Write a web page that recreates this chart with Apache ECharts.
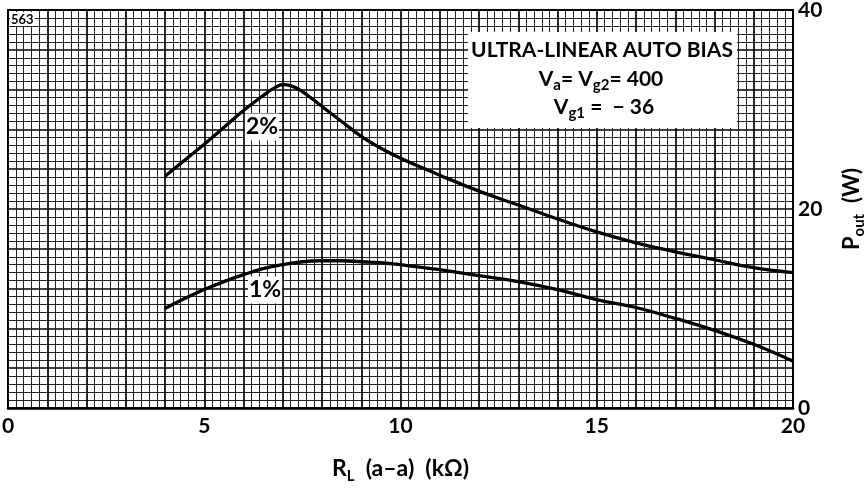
<!DOCTYPE html>
<html><head><meta charset="utf-8">
<script src="https://cdn.jsdelivr.net/npm/echarts@6/dist/echarts.min.js"></script>
<style>html,body{margin:0;padding:0;background:#fff}#c{width:867px;height:488px}</style>
</head><body><div id="c"></div>
<script>
// Data
const rl2 = [4.0, 4.5, 5.0, 5.5, 6.0, 6.5, 6.8, 7.0, 7.2, 7.5, 8.0, 8.5, 9.0, 9.5, 10.0, 11.0, 12.0, 13.0, 14.0, 15.0, 16.0, 17.0, 18.0, 19.0, 20.0];
const p2  = [23.3, 24.9, 26.5, 28.2, 29.9, 31.4, 32.2, 32.5, 32.4, 31.8, 30.3, 28.8, 27.3, 26.1, 25.1, 23.4, 21.8, 20.4, 19.0, 17.7, 16.6, 15.7, 14.9, 14.1, 13.6];
const rl1 = [4.0, 4.5, 5.0, 5.5, 6.0, 6.5, 7.0, 7.5, 8.0, 8.5, 9.0, 9.5, 10.0, 11.0, 12.0, 13.0, 14.0, 15.0, 16.0, 17.0, 18.0, 19.0, 20.0];
const p1  = [10.0, 11.0, 11.9, 12.7, 13.4, 14.0, 14.4, 14.7, 14.8, 14.8, 14.7, 14.6, 14.4, 13.9, 13.3, 12.7, 11.9, 10.9, 10.1, 9.0, 7.8, 6.4, 4.7];
const xRange = [0, 20];
const yRange = [0, 40];
const xLabelStep = 5;
const yLabelStep = 20;

const FONT = 'Lato';
const chart = echarts.init(document.getElementById('c'), null, {renderer: 'canvas'});
const pairs = (xs, ys) => xs.map((x, i) => [x, ys[i]]);

const gridAxisX = {
  type: 'value', min: xRange[0], max: xRange[1], interval: 1, gridIndex: 0,
  axisLine: {show: false}, axisTick: {show: false}, axisLabel: {show: false},
  splitLine: {show: true, lineStyle: {color: '#000', width: 1.7}},
  minorTick: {show: false, splitNumber: 5},
  minorSplitLine: {show: true, lineStyle: {color: '#222', width: 1}}
};
const gridAxisY = {
  type: 'value', min: yRange[0], max: yRange[1], interval: 4, gridIndex: 0,
  axisLine: {show: false}, axisTick: {show: false}, axisLabel: {show: false},
  splitLine: {show: true, lineStyle: {color: '#000', width: 1.7}},
  minorTick: {show: false, splitNumber: 5},
  minorSplitLine: {show: true, lineStyle: {color: '#222', width: 1}}
};

chart.setOption({
  animation: false,
  backgroundColor: '#fff',
  grid: {left: 8, right: 74, top: 10, bottom: 80, outerBoundsMode: 'none', containLabel: false,
         show: true, borderColor: '#000', borderWidth: 2, backgroundColor: '#fff'},
  xAxis: [
    {
      type: 'value', min: xRange[0], max: xRange[1], interval: xLabelStep, position: 'bottom',
      axisLine: {show: true, lineStyle: {color: '#000', width: 2.5}},
      axisTick: {show: false}, splitLine: {show: false},
      axisLabel: {color: '#000', fontFamily: FONT, fontWeight: 'bold', fontSize: 21, margin: 8},
      name: '{m|R}{s|L}{m|  (a–a)  (kΩ)}', nameLocation: 'middle', nameGap: 46,
      nameTextStyle: {color: '#000', fontFamily: FONT, fontWeight: 'bold',
        rich: {m: {fontFamily: FONT, fontWeight: 'bold', fontSize: 23, color: '#000'},
               s: {fontFamily: FONT, fontWeight: 'bold', fontSize: 15, color: '#000', padding: [15, 0, 0, 0]}}}
    },
    gridAxisX
  ],
  yAxis: [
    {
      type: 'value', min: yRange[0], max: yRange[1], interval: yLabelStep, position: 'right',
      axisLine: {show: true, lineStyle: {color: '#000', width: 2}},
      axisTick: {show: false}, splitLine: {show: false},
      axisLabel: {color: '#000', fontFamily: FONT, fontWeight: 'bold', fontSize: 21, margin: 5},
      name: '{m|P}{s|out}{m|  (W)}', nameLocation: 'middle', nameGap: 44, nameRotate: 90,
      nameTextStyle: {color: '#000', fontFamily: FONT, fontWeight: 'bold',
        rich: {m: {fontFamily: FONT, fontWeight: 'bold', fontSize: 22, color: '#000'},
               s: {fontFamily: FONT, fontWeight: 'bold', fontSize: 15, color: '#000', padding: [15, 0, 0, 0]}}}
    },
    gridAxisY
  ],
  series: [
    {type: 'line', name: '2%', data: pairs(rl2, p2), smooth: 0.45, showSymbol: false, symbol: 'none',
     lineStyle: {color: '#000', width: 3.3}, z: 5},
    {type: 'line', name: '1%', data: pairs(rl1, p1), smooth: 0.45, showSymbol: false, symbol: 'none',
     lineStyle: {color: '#000', width: 3.3}, z: 5}
  ],
  graphic: [
    {type: 'rect', z: 20, shape: {x: 468, y: 32, width: 269, height: 96}, style: {fill: '#fff'}},
    {type: 'text', z: 21, x: 602, y: 50, style: {text: 'ULTRA-LINEAR AUTO BIAS', fontFamily: FONT, fontWeight: 'bold', fontSize: 21, fill: '#000', align: 'center', verticalAlign: 'middle'}},
    {type: 'text', z: 21, x: 601, y: 79, style: {
      text: '{m|V}{s|a}{m|= V}{s|g2}{m|= 400}', align: 'center', verticalAlign: 'middle',
      rich: {m: {fontFamily: FONT, fontWeight: 'bold', fontSize: 21, fill: '#000'},
             s: {fontFamily: FONT, fontWeight: 'bold', fontSize: 15, fill: '#000', padding: [13, 0, 0, 0]}}}},
    {type: 'text', z: 21, x: 604, y: 107, style: {
      text: '{m|V}{s|g1}{m| =  − 36}', align: 'center', verticalAlign: 'middle',
      rich: {m: {fontFamily: FONT, fontWeight: 'bold', fontSize: 21, fill: '#000'},
             s: {fontFamily: FONT, fontWeight: 'bold', fontSize: 15, fill: '#000', padding: [13, 0, 0, 0]}}}},
    {type: 'text', z: 21, x: 262, y: 127, style: {text: '2%', fontFamily: FONT, fontWeight: 'bold', fontSize: 23, fill: '#000', align: 'center', verticalAlign: 'middle', backgroundColor: '#fff', padding: [2, 1, 2, 1]}},
    {type: 'text', z: 21, x: 265, y: 290, style: {text: '1%', fontFamily: FONT, fontWeight: 'bold', fontSize: 23, fill: '#000', align: 'center', verticalAlign: 'middle', backgroundColor: '#fff', padding: [2, 1, 2, 1]}},
    {type: 'text', z: 21, x: 10, y: 12, style: {text: '563', fontFamily: FONT, fontWeight: 'bold', fontSize: 13, fill: '#000', backgroundColor: '#fff', padding: [1, 1, 0, 1]}}
  ]
});
</script></body></html>
